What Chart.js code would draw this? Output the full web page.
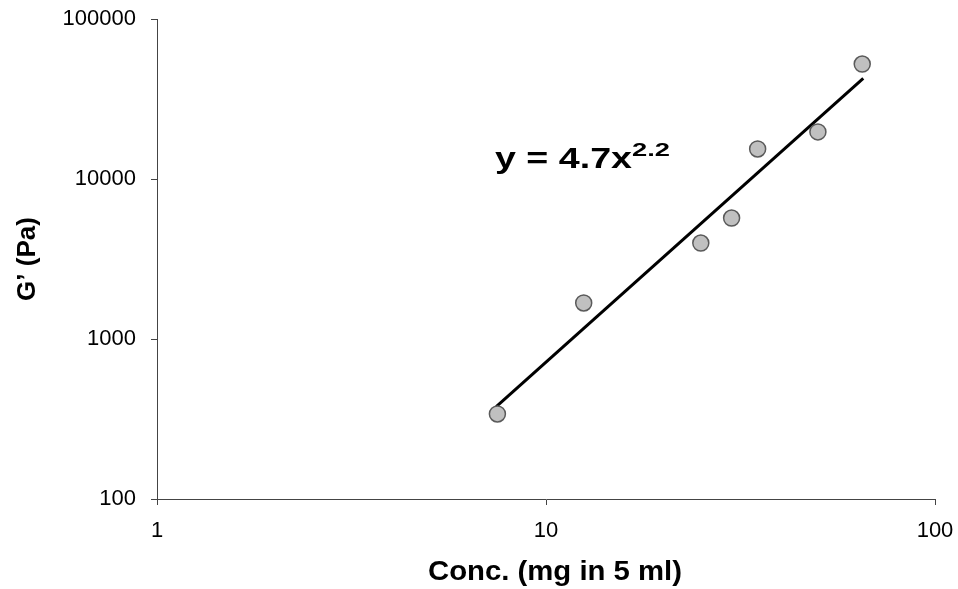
<!DOCTYPE html>
<html>
<head>
<meta charset="utf-8">
<script src="https://cdn.jsdelivr.net/npm/chart.js@4/dist/chart.umd.min.js"></script>
<style>
  html, body { margin: 0; padding: 0; background: #fff; }
  #wrap { width: 958px; height: 589px; position: relative; }
</style>
</head>
<body>
<div id="wrap"><canvas id="c" width="958" height="589"></canvas></div>
<script>
// ---- data ----
const concValues = [7.5, 12.5, 25, 30, 35, 50, 65];            // mg in 5 ml
const gPrimeValues = [340, 1680, 3980, 5700, 15400, 19700, 52300]; // Pa
const trendX = [7.45, 65.4];        // fitted line end points
const trendY = [378, 42500];
const xTickValues = [1, 10, 100];
const yTickValues = [100, 1000, 10000, 100000];
const xTitle = 'Conc. (mg in 5 ml)';
const yTitle = 'G\u2019 (Pa)';
const eqMain = 'y = 4.7x';
const eqSup = '2.2';

const FONT = '"Liberation Sans", Arial, sans-serif';

const pointData = concValues.map((x, i) => ({ x: x, y: gPrimeValues[i] }));
const trendData = trendX.map((x, i) => ({ x: x, y: trendY[i] }));

function fitText(ctx, text, x, y, width, align) {
  const w = ctx.measureText(text).width;
  const s = width / w;
  ctx.save();
  ctx.translate(x, y);
  ctx.scale(s, 1);
  ctx.textAlign = align || 'left';
  ctx.fillText(text, 0, 0);
  ctx.restore();
}

function zeroPad(s) {
  s.paddingTop = 0; s.paddingBottom = 0; s.paddingLeft = 0; s.paddingRight = 0;
}

const textPlugin = {
  id: 'textPlugin',
  afterDraw(chart) {
    const ctx = chart.ctx;
    const area = chart.chartArea;
    ctx.save();
    ctx.fillStyle = '#000';
    ctx.textBaseline = 'alphabetic';
    // equation label
    ctx.font = 'bold 29px ' + FONT;
    fitText(ctx, eqMain, area.left + 338, area.top + 149, 137, 'left');
    ctx.font = 'bold 19px ' + FONT;
    fitText(ctx, eqSup, area.left + 475, area.top + 137, 38, 'left');
    // x axis title
    ctx.font = 'bold 28px ' + FONT;
    fitText(ctx, xTitle, area.left + 271, 580, 254, 'left');
    ctx.restore();
  }
};

new Chart(document.getElementById('c'), {
  type: 'scatter',
  data: {
    datasets: [
      {
        label: "G'",
        data: pointData,
        pointRadius: 8,
        pointHoverRadius: 8,
        pointBackgroundColor: '#c0c0c0',
        pointBorderColor: '#5a5a5a',
        pointBorderWidth: 1.5,
        showLine: false
      },
      {
        label: 'fit',
        data: trendData,
        showLine: true,
        borderColor: '#000',
        borderWidth: 3,
        pointRadius: 0,
        pointHoverRadius: 0,
        fill: false
      }
    ]
  },
  plugins: [textPlugin],
  options: {
    responsive: false,
    animation: false,
    events: [],
    layout: { padding: { top: 19, right: 23, left: 0, bottom: 0 } },
    plugins: {
      legend: { display: false },
      tooltip: { enabled: false },
      title: { display: false }
    },
    scales: {
      x: {
        type: 'logarithmic',
        min: 1,
        max: 100,
        afterBuildTicks: (s) => { s.ticks = xTickValues.map(v => ({ value: v })); },
        afterFit: (s) => { s.height = 90; zeroPad(s); },
        ticks: {
          autoSkip: false,
          maxRotation: 0,
          padding: 13,
          color: '#000',
          font: { family: FONT, size: 22 },
          callback: (v) => String(v)
        },
        grid: {
          display: true,
          drawOnChartArea: false,
          drawTicks: true,
          tickLength: 6,
          color: '#444'
        },
        border: { display: true, color: '#444', width: 1 },
        title: { display: false }
      },
      y: {
        type: 'logarithmic',
        min: 100,
        max: 100000,
        afterBuildTicks: (s) => { s.ticks = yTickValues.map(v => ({ value: v })); },
        afterFit: (s) => { s.width = 157; zeroPad(s); },
        ticks: {
          autoSkip: false,
          padding: 15,
          color: '#000',
          font: { family: FONT, size: 22 },
          callback: (v) => String(v)
        },
        grid: {
          display: true,
          drawOnChartArea: false,
          drawTicks: true,
          tickLength: 6,
          color: '#444'
        },
        border: { display: true, color: '#444', width: 1 },
        title: {
          display: true,
          text: yTitle,
          color: '#000',
          font: { family: FONT, size: 26, weight: 'bold' },
          padding: { top: 12, bottom: 0 }
        }
      }
    }
  }
});
</script>
</body>
</html>
